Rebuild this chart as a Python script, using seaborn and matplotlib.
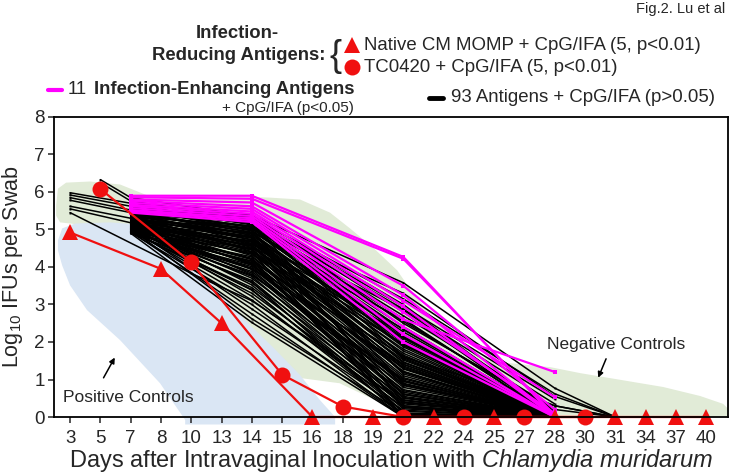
import numpy as np
import pandas as pd
import matplotlib
matplotlib.use("Agg")
import matplotlib.pyplot as plt
from matplotlib.lines import Line2D
import seaborn as sns

# --------------------------------
# Data
# --------------------------------
days = [3, 5, 7, 8, 10, 13, 14, 15, 16, 18, 19, 21, 22, 24, 25, 27, 28, 30, 31, 34, 37, 40]

# Infection-reducing antigens
momp_days = [3, 8, 13, 16, 19, 22, 25, 28, 31, 34, 37, 40]
momp_log = [4.92, 3.95, 2.50, 0, 0, 0, 0, 0, 0, 0, 0, 0]
tc0420_days = [5, 10, 15, 18, 21, 24, 27, 30]
tc0420_log = [6.08, 4.12, 1.13, 0.28, 0, 0, 0, 0]

# 11 infection-enhancing antigens
magenta_days = [7, 14, 21, 28]
magenta_log = [
    [5.90, 5.90, 4.27, 0.00],
    [5.86, 5.82, 4.22, 0.05],
    [5.80, 5.72, 3.50, 0.20],
    [5.76, 5.62, 3.25, 0.00],
    [5.71, 5.55, 3.10, 0.53],
    [5.66, 5.48, 2.95, 0.00],
    [5.62, 5.42, 2.80, 0.10],
    [5.57, 5.36, 2.60, 1.20],
    [5.52, 5.30, 2.40, 0.00],
    [5.49, 5.25, 2.20, 0.00],
    [5.45, 5.20, 2.00, 0.00],
]

# 93 antigens (p>0.05): a few groups sampled from day 3/5
black_early_days = [3, 5, 7, 10, 14, 21, 28, 31]
black_early_log = [
    [5.98, None, 5.70, None, 5.30, 2.80, 0.00, None],
    [5.92, None, 5.62, None, 5.22, 2.15, 0.00, None],
    [5.85, None, 5.52, None, 5.08, 1.90, 0.30, 0.00],
    [5.78, None, 5.45, None, 4.92, 1.55, 0.00, None],
    [5.62, None, 5.30, None, 4.78, 1.20, 0.00, None],
    [5.55, None, 5.18, None, 4.58, 0.85, 0.00, None],
    [5.45, None, None, 3.83, 3.10, 0.40, 0.00, None],
    [None, 6.33, 5.85, None, 5.35, 3.00, 0.00, None],
    [None, 6.25, 5.76, None, 5.26, 2.50, 0.20, 0.00],
]
# ...the rest sampled from day 7
black_days = [7, 14, 21, 28, 31]
black_log = [
    [5.68, 5.38, 3.58, 0.77, 0], [5.55, 5.32, 3.15, 0.62, 0], [5.61, 5.27, 2.95, 0.48, None],
    [5.40, 5.21, 2.88, 0.35, None], [5.47, 5.18, 2.70, 0.22, None], [5.66, 5.12, 2.62, 0, None],
    [5.35, 5.09, 2.41, 0, None], [5.52, 5.05, 2.55, 0.12, None], [5.28, 5.02, 2.33, 0, None],
    [5.44, 4.98, 2.18, 0, None], [5.59, 4.96, 2.27, 0, None], [5.22, 4.91, 2.05, 0, None],
    [5.37, 4.88, 1.98, 0, None], [5.50, 4.84, 2.12, 0, None], [5.18, 4.80, 1.87, 0, None],
    [5.31, 4.77, 1.76, 0, None], [5.42, 4.73, 1.92, 0, None], [5.12, 4.70, 1.65, 0, None],
    [5.26, 4.66, 1.58, 0, None], [5.48, 4.62, 1.81, 0, None], [5.08, 4.58, 1.47, 0, None],
    [5.20, 4.55, 1.36, 0, None], [5.34, 4.52, 1.70, 0, None], [5.02, 4.48, 1.28, 0, None],
    [5.15, 4.45, 1.19, 0, None], [5.39, 4.41, 1.52, 0, None], [4.98, 4.38, 1.10, 0, None],
    [5.10, 4.34, 1.41, 0, None], [5.27, 4.30, 0.98, 0, None], [4.95, 4.27, 1.05, 0, None],
    [5.05, 4.23, 0.88, 0, None], [5.19, 4.20, 1.22, 0, None], [4.92, 4.16, 0.79, 0, None],
    [5.00, 4.12, 0.95, 0, None], [5.13, 4.08, 0.70, 0, None], [5.24, 4.05, 1.33, 0, None],
    [4.90, 4.01, 0.62, 0, None], [5.03, 3.97, 0.84, 0, None], [5.16, 3.93, 0.55, 0, None],
    [4.94, 3.88, 0.73, 0, None], [5.07, 3.84, 0.46, 0, None], [5.21, 3.80, 1.02, 0, None],
    [4.97, 3.75, 0.38, 0, None], [5.09, 3.70, 0.66, 0, None], [4.91, 3.64, 0.30, 0, None],
    [5.01, 3.58, 0.52, 0, None], [5.14, 3.52, 0.22, 0, None], [4.93, 3.45, 0.44, 0, None],
    [5.04, 3.38, 0.15, 0, None], [4.96, 3.30, 0.35, 0, None], [5.11, 3.22, 0.08, 0, None],
    [4.99, 3.12, 0.27, 0, None], [4.92, 3.00, 0.00, 0, None], [5.06, 2.88, 0.18, 0, None],
    [4.95, 2.75, 0.00, 0, None], [5.02, 2.62, 0.10, 0, None], [4.90, 2.52, 0.00, 0, None],
    [5.57, 5.15, 0.90, 0, None], [5.45, 5.00, 0.40, 0, None], [5.36, 4.85, 0.00, 0, None],
    [5.29, 4.60, 0.25, 0, None], [5.12, 4.40, 0.00, 0, None], [5.04, 4.20, 0.10, 0, None],
    [5.63, 5.22, 1.60, 0.30, 0], [5.51, 5.08, 3.30, 0.55, 0], [5.46, 4.93, 2.85, 0.15, None],
    [5.33, 4.72, 2.60, 0, None], [5.25, 4.63, 2.35, 0.05, None], [5.17, 4.50, 2.10, 0, None],
    [5.06, 4.35, 1.95, 0, None], [4.98, 4.15, 1.62, 0, None], [4.93, 3.95, 1.40, 0, None],
    [5.41, 4.78, 0.60, 0, None], [5.23, 4.47, 0.50, 0, None], [5.00, 3.60, 0.00, 0, None],
    [4.94, 3.40, 0.05, 0, None], [5.09, 4.10, 0.30, 0, None], [5.30, 4.90, 1.15, 0, None],
    [5.18, 4.68, 1.45, 0, None], [5.38, 5.03, 2.00, 0, None], [4.96, 3.78, 0.95, 0, None],
    [5.14, 4.56, 2.20, 0, None], [5.27, 4.82, 1.30, 0, None], [4.91, 4.05, 0.60, 0, None],
]

# control ranges (outline in day-index / log units)
neg_x = [-0.46, -0.40, -0.13, 0.66, 1.65, 2.64, 3.96, 5.61, 6.60, 7.59, 8.58, 9.24, 10.0,
         10.8, 11.32, 12.45, 13.2, 14.2, 15.85, 16.84, 19.58, 20.8, 21.56, 21.76, 21.76,
         11.55, 10.9, 8.9, 7.59, 6.6, 5.87, 5.2, 3.96, 2.64, 1.65, 0.33, -0.33, -0.46]
neg_y = [5.64, 6.09, 6.25, 6.28, 6.20, 5.88, 5.82, 5.88, 5.85, 5.80, 5.45, 5.03, 4.52,
         3.91, 3.30, 2.23, 1.70, 1.46, 1.33, 1.17, 0.80, 0.56, 0.35, 0.19, 0.02,
         0.0, 0.13, 0.90, 1.04, 1.25, 1.90, 2.80, 3.91, 4.84, 5.08, 5.13, 5.19, 5.37]
pos_x = [-0.40, -0.26, 0.17, 1.32, 2.31, 2.97, 3.63, 4.29, 5.18, 5.94, 6.70, 7.59, 8.25,
         8.75, 8.75, 3.80, 3.80, 2.97, 1.65, 0.56, 0.0, -0.26, -0.40]
pos_y = [4.71, 5.03, 5.16, 5.19, 5.13, 4.92, 4.44, 3.91, 3.11, 2.45, 1.86, 1.12, 0.45,
         0.0, -0.2, -0.2, -0.08, 0.90, 2.05, 2.85, 3.51, 4.04, 4.44]


def long_form(day_list, rows):
    recs = []
    for k, row in enumerate(rows):
        for d, v in zip(day_list, row):
            if v is not None:
                recs.append({"unit": k, "pos": days.index(d), "log": v})
    return pd.DataFrame(recs)


def main():
    sns.set_style("ticks")
    plt.rcParams["font.family"] = ["Liberation Sans", "DejaVu Sans"]
    plt.rcParams["mathtext.fontset"] = "custom"
    plt.rcParams["mathtext.rm"] = "Liberation Sans"
    plt.rcParams["mathtext.it"] = "Liberation Sans:italic"

    fig = plt.figure(figsize=(7.31, 4.75), dpi=100)
    ax = fig.add_axes([0.0739, 0.1221, 0.922, 0.6316])

    red = "#f01010"

    # shaded control ranges
    ax.fill(neg_x, neg_y, color="#e1ebd7", lw=0, zorder=0)
    ax.fill(pos_x, pos_y, color="#dae6f4", lw=0, zorder=0, clip_on=False)

    # 93 antigens
    black_df = pd.concat([
        long_form(black_early_days, black_early_log),
        long_form(black_days, black_log).assign(unit=lambda d: d["unit"] + 100),
    ])
    sns.lineplot(data=black_df, x="pos", y="log", units="unit", estimator=None,
                 color="black", lw=1.1, marker="s", markersize=1.4,
                 markeredgewidth=0, ax=ax, zorder=2, clip_on=False)

    # 11 enhancing antigens
    mag_df = long_form(magenta_days, magenta_log)
    sns.lineplot(data=mag_df, x="pos", y="log", units="unit", estimator=None,
                 color="#ff00ff", lw=1.6, marker="s", markersize=2.5,
                 markeredgewidth=0, ax=ax, zorder=3, clip_on=False)

    # reducing antigens
    momp_df = pd.DataFrame({"pos": [days.index(d) for d in momp_days], "log": momp_log})
    tc_df = pd.DataFrame({"pos": [days.index(d) for d in tc0420_days], "log": tc0420_log})
    sns.lineplot(data=tc_df, x="pos", y="log", color=red, lw=1.6, marker="o",
                 markersize=11.5, markeredgewidth=0, ax=ax, zorder=5, clip_on=False)
    sns.lineplot(data=momp_df, x="pos", y="log", color=red, lw=1.6, marker="^",
                 markersize=11.5, markeredgewidth=0, ax=ax, zorder=5, clip_on=False)

    # axes styling
    ax.set_xlim(-0.53, 21.72)
    ax.set_ylim(0, 8)
    ax.set_xticks(range(len(days)))
    ax.set_xticklabels([str(d) for d in days])
    ax.set_yticks(range(0, 9))
    ax.tick_params(axis="both", labelsize=13.5, length=4.5, width=1.1, direction="out")
    ax.tick_params(axis="x", pad=5)
    ax.tick_params(axis="y", pad=2)
    for s in ax.spines.values():
        s.set_linewidth(1.3)
        s.set_color("black")
        s.set_zorder(6)
    ax.set_xlabel("Days after Intravaginal Inoculation with $\\it{Chlamydia\\ muridarum}$",
                  fontsize=17, labelpad=0)
    ax.set_ylabel("Log$_{10}$ IFUs per Swab", fontsize=15.5, labelpad=7)

    # control annotations
    ax.text(-0.23, 0.53, "Positive Controls", fontsize=12.5, va="center", ha="left")
    ax.annotate("", xy=(1.52, 1.65), xytext=(1.06, 0.98),
                arrowprops=dict(arrowstyle="-|>", color="black", lw=1.1, mutation_scale=8))
    ax.text(15.75, 1.94, "Negative Controls", fontsize=12.5, va="center", ha="left")
    ax.annotate("", xy=(17.4, 0.98), xytext=(17.73, 1.62),
                arrowprops=dict(arrowstyle="-|>", color="black", lw=1.1, mutation_scale=8))

    # legend block (figure coordinates)
    W, H = 731.0, 475.0

    def fx(px):
        return px / W

    def fy(py):
        return 1 - py / H

    fig.text(fx(725), fy(9), "Fig.2. Lu et al", fontsize=10.5, ha="right", va="center")
    fig.text(fx(237), fy(33), "Infection-", fontsize=13.3, weight="bold", ha="center", va="center")
    fig.text(fx(325), fy(56), "Reducing Antigens:", fontsize=13.3, weight="bold",
             ha="right", va="center")
    fig.text(fx(336), fy(56), "{", fontsize=26, ha="center", va="center")
    fig.add_artist(Line2D([fx(352)], [fy(45)], marker="^", markersize=11.5, color=red,
                          markeredgewidth=0, transform=fig.transFigure))
    fig.add_artist(Line2D([fx(352)], [fy(67)], marker="o", markersize=11.5, color=red,
                          markeredgewidth=0, transform=fig.transFigure))
    fig.text(fx(364), fy(45), "Native CM MOMP + CpG/IFA (5, p<0.01)", fontsize=13.4,
             ha="left", va="center")
    fig.text(fx(364), fy(67), "TC0420 + CpG/IFA (5, p<0.01)", fontsize=13.4,
             ha="left", va="center")

    fig.add_artist(Line2D([fx(48), fx(62)], [fy(90), fy(90)], color="#ff00ff", lw=3,
                          transform=fig.transFigure))
    fig.text(fx(68), fy(90), "11", fontsize=13.3, ha="left", va="center")
    fig.text(fx(354), fy(90), "Infection-Enhancing Antigens", fontsize=13.3, weight="bold",
             ha="right", va="center")
    fig.text(fx(354), fy(108), "+ CpG/IFA (p<0.05)", fontsize=11, ha="right", va="center")

    fig.add_artist(Line2D([fx(429), fx(443)], [fy(98), fy(98)], color="black", lw=3.5,
                          transform=fig.transFigure))
    fig.text(fx(451), fy(98), "93 Antigens + CpG/IFA (p>0.05)", fontsize=13.4,
             ha="left", va="center")

    fig.savefig("out.png", dpi=100)
    plt.close(fig)


if __name__ == "__main__":
    main()
